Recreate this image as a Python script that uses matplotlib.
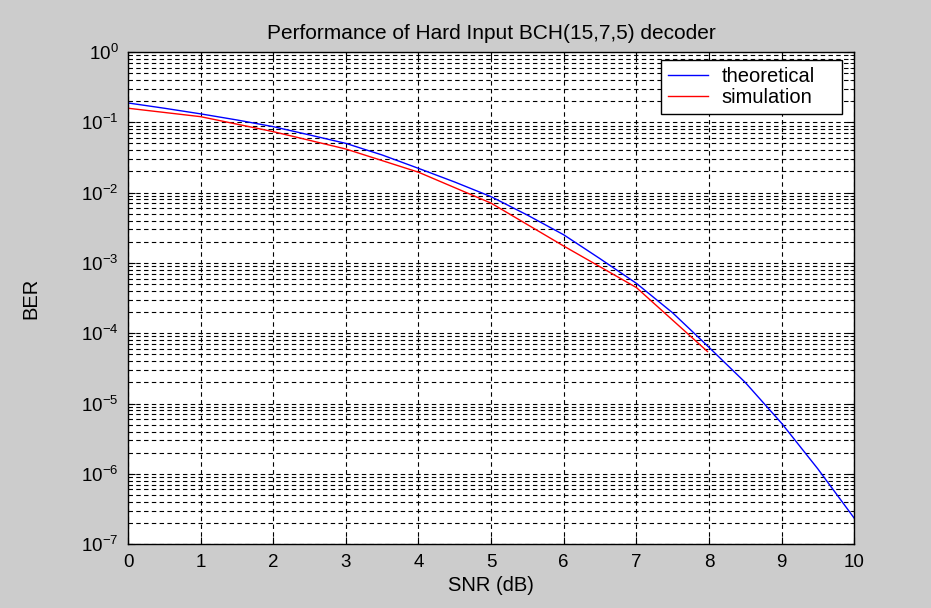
import numpy as np
import matplotlib.pyplot as plt
from matplotlib.ticker import FixedLocator, NullFormatter

# SNR grid (dB) and log10(BER)
snr_theory = [0, 0.5, 1, 1.5, 2, 2.5, 3, 3.5, 4, 4.5, 5, 5.5, 6, 6.5, 7, 7.5, 8, 8.5, 9, 9.5, 10]
log_ber_theory = [-0.725, -0.80, -0.88, -0.967, -1.062, -1.18, -1.30, -1.465, -1.655, -1.85,
                  -2.058, -2.32, -2.60, -2.94, -3.29, -3.71, -4.20, -4.70, -5.28, -5.93, -6.63]

snr_sim = [0, 1, 2, 3, 4, 5, 6, 7, 7.98]
log_ber_sim = [-0.80, -0.92, -1.133, -1.38, -1.71, -2.15, -2.76, -3.35, -4.26]

ber_theory = 10 ** np.array(log_ber_theory)
ber_sim = 10 ** np.array(log_ber_sim)

y_decades = [1e-7, 1e-6, 1e-5, 1e-4, 1e-3, 1e-2, 1e-1, 1e0]

plt.rcParams['font.family'] = ['Liberation Sans', 'DejaVu Sans']

fig = plt.figure(figsize=(9.31, 6.08), dpi=100, facecolor='#cccccc')
ax = fig.add_axes([0.1375, 0.105, 0.78, 0.8095])
ax.set_facecolor('white')

ax.semilogy(snr_theory, ber_theory, color='#0000ff', lw=1.0, label='theoretical')
ax.semilogy(snr_sim, ber_sim, color='#ff0000', lw=1.0, label='simulation')

ax.set_xlim(0, 10)
ax.set_ylim(1e-7, 1)
ax.set_xticks(range(11))
ax.set_yticks(y_decades)
minor = [m * d for d in y_decades[:-1] for m in range(2, 10)]
ax.yaxis.set_minor_locator(FixedLocator(minor))
ax.yaxis.set_minor_formatter(NullFormatter())

# MATLAB style dashed grid, minor lines on the log axis too
dash = (0, (4, 3))
ax.grid(True, which='major', axis='both', color='black', lw=0.8, linestyle=dash)
ax.grid(True, which='minor', axis='y', color='black', lw=0.8, linestyle=dash)
ax.set_axisbelow(True)

ax.tick_params(which='both', direction='in', top=True, right=True, labelsize=13.5)
ax.tick_params(which='major', length=5)
ax.tick_params(which='minor', length=3)
ax.tick_params(axis='x', pad=7)
ax.tick_params(axis='y', pad=7)
for s in ax.spines.values():
    s.set_linewidth(1.0)

ax.set_title('Performance of Hard Input BCH(15,7,5) decoder', fontsize=15, pad=9)
ax.set_xlabel('SNR (dB)', fontsize=14.5, labelpad=4)
ax.set_ylabel('BER', fontsize=14.5)
ax.yaxis.set_label_coords(-0.12, 0.5)

leg = ax.legend(loc='upper left', bbox_to_anchor=(0.734, 0.876, 0.2495, 0.1077),
                mode='expand', fontsize=14.5, fancybox=False, framealpha=1,
                edgecolor='black', borderaxespad=0, handlelength=2.0,
                handletextpad=0.65, borderpad=0.35, labelspacing=0.1)
leg.get_frame().set_linewidth(1.0)

fig.savefig('out.png', dpi=100, facecolor=fig.get_facecolor())
